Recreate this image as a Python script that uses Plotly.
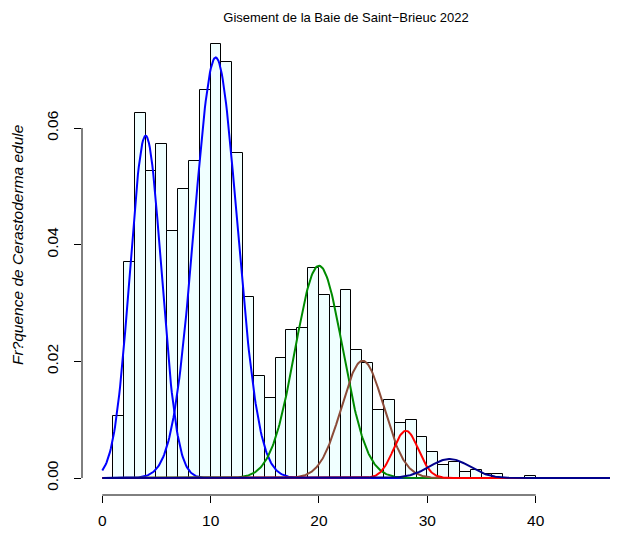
import numpy as np
import plotly.graph_objects as go

# Histogram (density): bins [k, k+1)
bin_left = list(range(1, 40))
density = [0.0106, 0.0370, 0.0626, 0.0527, 0.0572, 0.0423, 0.0495, 0.0543, 0.0666, 0.0744,
           0.0713, 0.0558, 0.0311, 0.0175, 0.0138, 0.0206, 0.0254, 0.0258, 0.0360, 0.0314,
           0.0293, 0.0323, 0.0220, 0.0198, 0.0117, 0.0133, 0.0095, 0.0099, 0.0070, 0.0044,
           0.0022, 0.0027, 0.0010, 0.0013, 0.0007, 0.0007, 0.0, 0.0, 0.0003]

comp_mean = [4.0, 10.47, 20.0, 24.03, 28.02, 32.05]
comp_sd = [1.45, 1.98, 2.2, 1.95, 1.15, 1.85]
comp_peak = [0.0587, 0.0721, 0.0364, 0.0201, 0.0081, 0.00326]
comp_color = ["#0000FF", "#0000FF", "#008B00", "#8B4C39", "#FF0000", "#00008B"]

x_ticks = [0, 10, 20, 30, 40]
y_ticks = [0.00, 0.02, 0.04, 0.06]
y_tick_labels = ["0.00", "0.02", "0.04", "0.06"]

title_text = "Gisement de la Baie de Saint\u2212Brieuc 2022"
ylab_text = "Fr?quence de Cerastoderma edule"

X_RANGE = [-1.874, 46.86]
Y_RANGE = [-0.002914, 0.07578]
FONT = "Liberation Sans, Arial, Helvetica, sans-serif"

fig = go.Figure()
fig.add_trace(go.Bar(
    x=[b + 0.5 for b in bin_left], y=density, width=1.0,
    marker=dict(color="#F0FFFF", line=dict(color="black", width=1)),
    hoverinfo="skip", showlegend=False,
))

xs = np.linspace(0, X_RANGE[1], 600)
for m, s, p, c in zip(comp_mean, comp_sd, comp_peak, comp_color):
    ys = p * np.exp(-((xs - m) ** 2) / (2 * s * s))
    fig.add_trace(go.Scatter(x=xs, y=ys, mode="lines",
                             line=dict(color=c, width=2), showlegend=False,
                             hoverinfo="skip"))

# R-style axis lines spanning first to last tick
fig.add_shape(type="line", xref="x", yref="paper", x0=x_ticks[0], x1=x_ticks[-1],
              y0=0, y1=0, line=dict(color="black", width=1))
fig.add_shape(type="line", xref="paper", yref="y", x0=0, x1=0,
              y0=y_ticks[0], y1=y_ticks[-1], line=dict(color="black", width=1))

fig.add_annotation(text=ylab_text, xref="paper", yref="paper",
                   x=(17 - 82) / 528, y=(495 - 245) / 459,
                   xanchor="center", yanchor="middle", textangle=-90, showarrow=False,
                   font=dict(family=FONT, size=15.5, color="black", style="italic"))

fig.update_layout(
    width=621, height=534,
    margin=dict(l=82, r=11, t=36, b=39, autoexpand=False),
    paper_bgcolor="white", plot_bgcolor="white",
    barmode="overlay", bargap=0,
    title=dict(text=title_text, x=346 / 621, xanchor="center", y=1 - 17 / 534,
               yanchor="middle", font=dict(family=FONT, size=13, color="black")),
    xaxis=dict(range=X_RANGE, tickmode="array", tickvals=x_ticks,
               ticktext=[str(t) for t in x_ticks], ticks="outside", ticklen=7,
               tickcolor="black", tickwidth=1, showline=False, showgrid=False,
               zeroline=False, tickfont=dict(family=FONT, size=15.5, color="black"),
               ticklabelstandoff=4, automargin=False),
    yaxis=dict(range=Y_RANGE, tickmode="array", tickvals=y_ticks,
               ticktext=y_tick_labels, ticks="outside", ticklen=7, tickangle=-90,
               tickcolor="black", tickwidth=1, showline=False, showgrid=False,
               zeroline=False, tickfont=dict(family=FONT, size=15.5, color="black"),
               ticklabelstandoff=10, automargin=False),
)

fig.write_html("out.html")
